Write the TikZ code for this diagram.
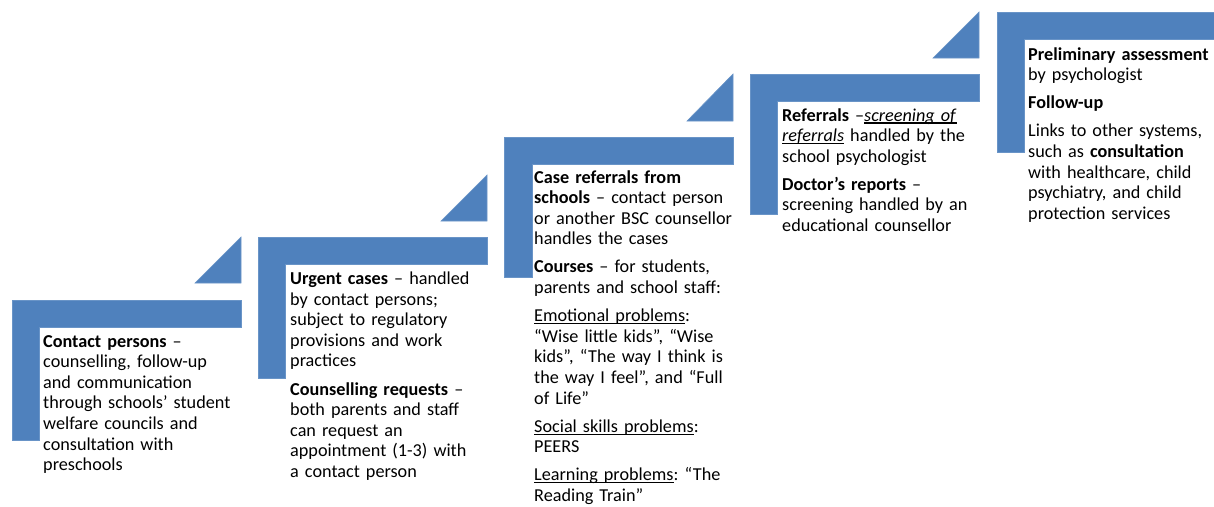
\documentclass[tikz,border=0pt]{standalone}
\usepackage{fontspec}
\setmainfont{Carlito}
\frenchspacing
% underline set just below the baseline, as word processors draw it
\newsavebox\ulinebox
\newcommand{\lowline}[1]{\leavevmode\sbox\ulinebox{#1}\rlap{\usebox\ulinebox}\rule[-2.6pt]{\wd\ulinebox}{1.2pt}}
\begin{document}
\definecolor{stepblue}{HTML}{4F81BD}
\tikzset{
  stepshape/.style={fill=stepblue, draw=stepblue!85!white, line width=0.6pt},
  steptext/.style={anchor=base west, inner sep=0pt, text width=215pt, align=left,
    font=\fontsize{18.2}{20.6}\selectfont\frenchspacing}
}
\newcommand{\paragap}{\\[7.5pt]}
\begin{tikzpicture}[x=1pt, y=-1pt]
  \useasboundingbox (0,0) rectangle (1214,506);

  % L-shaped steps: left edge, right edge, bar top, bar bottom, inner edge, foot
  \foreach \xa/\xb/\ya/\yb/\xv/\yc in {
      12/241/300/327/39/440,
      258/487/237/264/285/378,
      504/733/137/164/532/277,
      750/979/74/101/777/214,
      997/1214/12/39/1024/152}
    \draw[stepshape] (\xa,\ya) -- (\xb,\ya) -- (\xb,\yb) -- (\xv,\yb)
      -- (\xv,\yc) -- (\xa,\yc) -- cycle;

  % corner triangles above the right end of each bar
  \foreach \xl/\xr/\yt/\yb in {
      195/241/237/283,
      441/487/175/221,
      687/733/74/121,
      933/979/12/58}
    \draw[stepshape] (\xl,\yb) -- (\xr,\yb) -- (\xr,\yt) -- cycle;

  \node[steptext] (contact) at (43,347) {%
    \textbf{Contact persons} –\\
    counselling, follow-up\\
    and communication\\
    through schools’ student\\
    welfare councils and\\
    consultation with\\
    preschools};

  \node[steptext] (urgent) at (290,284.5) {%
    \textbf{Urgent cases} – handled\\
    by contact persons;\\
    subject to regulatory\\
    provisions and work\\
    practices\paragap
    \textbf{Counselling requests} –\\
    both parents and staff\\
    can request an\\
    appointment (1-3) with\\
    a contact person};

  \node[steptext] (cases) at (534,183) {%
    \textbf{Case referrals from}\\
    \textbf{schools} – contact person\\
    or another BSC counsellor\\
    handles the cases\paragap
    \textbf{Courses} – for students,\\
    parents and school staff:\paragap
    \lowline{Emotional problems}:\\
    “Wise little kids”, “Wise\\
    kids”, “The way I think is\\
    the way I feel”, and “Full\\
    of Life”\paragap
    \lowline{Social skills problems}:\\
    PEERS\paragap
    \lowline{Learning problems}: “The\\
    Reading Train”};

  \node[steptext] (referrals) at (782,121) {%
    \textbf{Referrals} –\lowline{\emph{screening of}}\\
    \lowline{\emph{referrals}} handled by the\\
    school psychologist\paragap
    \textbf{Doctor’s reports} –\\
    screening handled by an\\
    educational counsellor};

  \node[steptext] (assessment) at (1028,60) {%
    \textbf{Preliminary assessment}\\
    by psychologist\paragap
    \textbf{Follow-up}\paragap
    Links to other systems,\\
    such as \textbf{consultation}\\
    with healthcare, child\\
    psychiatry, and child\\
    protection services};
\end{tikzpicture}
\end{document}
